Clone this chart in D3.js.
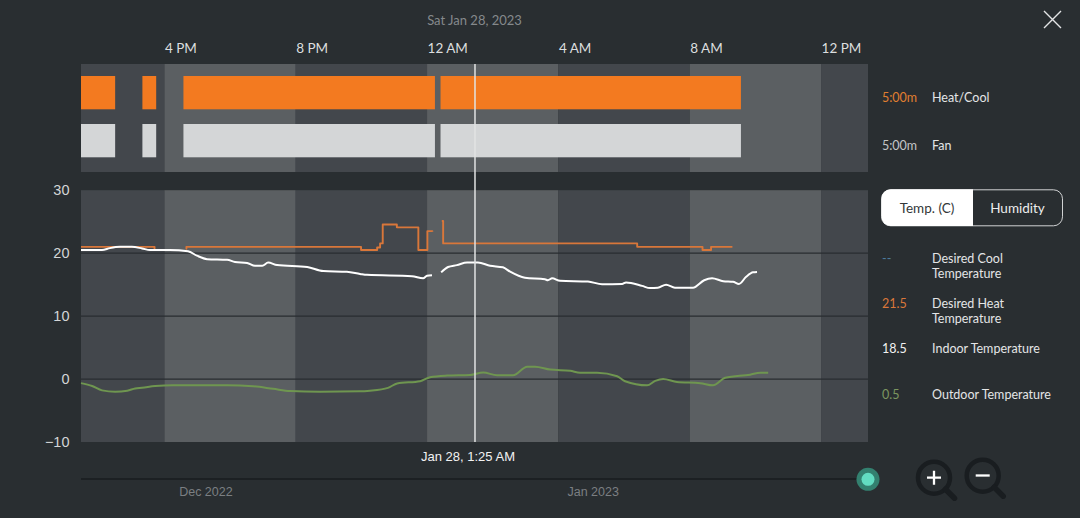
<!DOCTYPE html>
<html>
<head>
<meta charset="utf-8">
<script src="https://cdn.jsdelivr.net/npm/d3@7"></script>
<style>
  html, body { margin: 0; padding: 0; background: #292e31; overflow: hidden; }
  svg { display: block; }
  text { font-family: Lato, sans-serif; }
  .plain { font-family: "Liberation Sans", sans-serif; }
</style>
</head>
<body>
<div id="chart"></div>
<script>
// hours are counted from midnight of Jan 28 (negative = Jan 27)
const startHour = -10.54;
const endHour = 13.43;
const timeTicks = [-8, -4, 0, 4, 8, 12];
const bandEdges = [-10.54, -8, -4, 0, 4, 8, 12, 13.43];
const tempTicks = [30, 20, 10, 0, -10];
const gridTemps = [20, 10, 0];

// on/off runs of the system
const heatRuns = [[-10.54, -9.50], [-8.67, -8.25], [-7.42, 0.24], [0.41, 9.56]];
const fanRuns = [[-10.54, -9.50], [-8.67, -8.25], [-7.42, 0.24], [0.41, 9.56]];

// desired heat, one list per unbroken piece
const desiredHeat = [
  [[-10.54, 21.0], [-8.30, 20.7], [-8.28, 20.7]],
  [[-7.35, 20.7], [-7.33, 21.0], [-2.01, 20.5], [-1.52, 20.9], [-1.43, 21.55], [-1.35, 24.55],
   [-0.92, 24.1], [-0.265, 20.5], [0.01, 23.5], [0.16, 23.4]],
  [[0.45, 25.1], [0.49, 21.55], [6.40, 21.0], [8.39, 20.5], [8.65, 21.0], [9.30, 21.0]]
];

const indoorTemp = [
  [[-10.54, 20.5], [-9.90, 20.5], [-9.66, 20.8], [-9.35, 21.0], [-8.99, 21.0], [-8.68, 20.75],
   [-8.44, 20.5], [-7.83, 20.5], [-7.28, 20.3], [-7.01, 19.6], [-6.70, 19.05], [-6.09, 18.95],
   [-5.85, 18.6], [-5.48, 18.45], [-5.24, 18.0], [-5.02, 18.0], [-4.84, 18.5], [-4.57, 18.1],
   [-3.65, 17.8], [-3.16, 17.15], [-2.44, 17.05], [-2.04, 16.7], [-1.83, 16.55], [-0.46, 16.35],
   [-0.12, 16.0], [0, 16.4], [0.15, 16.5]],
  [[0.43, 16.95], [0.64, 17.8], [0.91, 18.1], [1.22, 18.5], [1.55, 18.5], [1.92, 18.0],
   [2.31, 17.75], [2.53, 17.05], [2.98, 16.1], [3.59, 15.85], [3.68, 15.7], [3.81, 16.0],
   [4.05, 15.6], [4.90, 15.5], [5.33, 15.05], [5.94, 15.1], [6.06, 15.35], [6.55, 14.8],
   [6.79, 14.45], [7.03, 14.5], [7.28, 15.0], [7.55, 14.5], [8.10, 14.5], [8.44, 15.7],
   [8.68, 16.0], [9.02, 15.55], [9.32, 15.45], [9.50, 15.1], [9.72, 16.25], [9.93, 16.95],
   [10.05, 17.0]]
];

const outdoorTemp = [
  [-10.54, -0.65], [-10.20, -1.1], [-9.90, -1.8], [-9.50, -2.0], [-9.13, -1.85], [-8.89, -1.5],
  [-8.68, -1.4], [-8.28, -1.1], [-7.73, -1.0], [-6.09, -1.0], [-5.30, -1.15], [-4.69, -1.55],
  [-4.17, -1.9], [-3.26, -2.0], [-2.04, -1.95], [-1.74, -1.85], [-1.19, -1.4], [-0.91, -0.7],
  [-0.21, -0.35], [0.09, 0.3], [0.61, 0.55], [1.31, 0.65], [1.71, 1.05], [2.13, 0.6],
  [2.62, 0.6], [3.05, 1.95], [3.29, 1.95], [3.75, 1.5], [4.36, 1.3], [4.66, 1.0],
  [5.18, 1.0], [5.79, 0.45], [6.03, -0.35], [6.70, -1.0], [6.95, -0.3], [7.19, 0],
  [7.61, -0.45], [8.32, -0.65], [8.71, -1.0], [9.08, 0.2], [9.84, 0.7], [10.15, 1.0], [10.39, 1.0]
];

const cursorHour = 1.46;
const legendRows = [
  { value: "--", color: "#4d7c9c", lines: ["Desired Cool", "Temperature"], y: 258 },
  { value: "21.5", color: "#d9773a", lines: ["Desired Heat", "Temperature"], y: 303.5 },
  { value: "18.5", color: "#f2f2f2", lines: ["Indoor Temperature"], y: 348 },
  { value: "0.5", color: "#7c9660", lines: ["Outdoor Temperature"], y: 394 }
];
const systemRows = [
  { value: "5:00m", color: "#e07f30", label: "Heat/Cool", y: 97 },
  { value: "5:00m", color: "#c4c6c7", label: "Fan", y: 145 }
];
const monthLabels = [new Date(2022, 11, 1), new Date(2023, 0, 1)];

const width = 1080, height = 518;
const base = new Date(2023, 0, 28).getTime();
const toDate = h => new Date(base + h * 3600000);

const svg = d3.select("#chart").append("svg")
  .attr("width", width)
  .attr("height", height);

const x = d3.scaleTime().domain([toDate(startHour), toDate(endHour)]).range([81, 868]);
const y = d3.scaleLinear().domain([30, -10]).range([190.2, 442]);

// alternating 4 hour bands behind both panels
function drawBands(top, bottom) {
  svg.append("g").selectAll("rect")
    .data(d3.pairs(bandEdges))
    .join("rect")
    .attr("x", d => x(toDate(d[0])))
    .attr("width", d => x(toDate(d[1])) - x(toDate(d[0])))
    .attr("y", top)
    .attr("height", bottom - top)
    .attr("fill", (d, i) => i % 2 ? "#5b5f62" : "#43474c");
}
drawBands(64, 172);
drawBands(190.2, 442);

// heat and fan runs
function drawRuns(runs, top, color) {
  svg.append("g").selectAll("rect")
    .data(runs)
    .join("rect")
    .attr("x", d => x(toDate(d[0])))
    .attr("width", d => x(toDate(d[1])) - x(toDate(d[0])))
    .attr("y", top)
    .attr("height", 33.3)
    .attr("fill", color);
}
drawRuns(heatRuns, 76, "#f37a20");
drawRuns(fanRuns, 124, "#d4d6d7");

// grid
svg.append("g").selectAll("line")
  .data(gridTemps)
  .join("line")
  .attr("x1", 81)
  .attr("x2", 868)
  .attr("y1", d => y(d))
  .attr("y2", d => y(d))
  .attr("stroke", "#292c30")
  .attr("stroke-width", 1.2);

// axes
const topAxis = svg.append("g")
  .attr("transform", "translate(0,52.5)")
  .call(d3.axisTop(x)
    .tickValues(timeTicks.map(toDate))
    .tickFormat(d3.timeFormat("%-I %p"))
    .tickSize(0)
    .tickPadding(0));
topAxis.select(".domain").remove();
// labels start at the band edge
topAxis.selectAll("text")
  .attr("fill", "#dcdedf")
  .attr("font-size", 13.5)
  .attr("text-anchor", "start")
  .style("font-family", "Lato, sans-serif");

const leftAxis = svg.append("g")
  .attr("transform", "translate(69.5,0)")
  .call(d3.axisLeft(y).tickValues(tempTicks).tickSize(0).tickPadding(0));
leftAxis.select(".domain").remove();
leftAxis.selectAll("text")
  .attr("fill", "#d4d6d7")
  .attr("font-size", 14.5)
  .style("font-family", "'Liberation Sans', sans-serif");

// lines
const straight = d3.line().x(d => x(toDate(d[0]))).y(d => y(d[1])).curve(d3.curveMonotoneX);
const stepped = d3.line().x(d => x(toDate(d[0]))).y(d => y(d[1])).curve(d3.curveStepAfter);

function drawLine(pieces, gen, color, sw) {
  svg.append("g").selectAll("path")
    .data(pieces)
    .join("path")
    .attr("d", gen)
    .attr("fill", "none")
    .attr("stroke", color)
    .attr("stroke-width", sw)
    .attr("stroke-linejoin", "round");
}
drawLine(desiredHeat, stepped, "#d9773a", 1.9);
drawLine(indoorTemp, straight, "#ffffff", 2);
drawLine([outdoorTemp], straight, "#6f9650", 2);

// cursor
svg.append("line")
  .attr("x1", x(toDate(cursorHour)))
  .attr("x2", x(toDate(cursorHour)))
  .attr("y1", 64)
  .attr("y2", 442)
  .attr("stroke", "#e2e3e3")
  .attr("stroke-width", 1.5);

svg.append("text")
  .attr("x", 474.5)
  .attr("y", 25)
  .attr("text-anchor", "middle")
  .attr("font-size", 13)
  .attr("fill", "#85898c")
  .text("Sat Jan 28, 2023");

svg.append("text")
  .attr("class", "plain")
  .attr("x", 468)
  .attr("y", 461)
  .attr("text-anchor", "middle")
  .attr("font-size", 13)
  .attr("fill", "#f2f2f2")
  .text("Jan 28, 1:25 AM");

// close button
svg.append("path")
  .attr("d", "M1044,11L1061,28M1061,11L1044,28")
  .attr("stroke", "#e4e5e6")
  .attr("stroke-width", 1.4)
  .attr("fill", "none");

// system legend
systemRows.forEach(r => {
  svg.append("text").attr("x", 882).attr("y", r.y + 4.5)
    .attr("font-size", 12.5).attr("fill", r.color).text(r.value);
  svg.append("text").attr("x", 932).attr("y", r.y + 4.5)
    .attr("font-size", 12.5).attr("fill", "#e4e5e6").text(r.label);
});

// toggle
const toggle = svg.append("g");
toggle.append("rect")
  .attr("x", 881.5).attr("y", 189.8).attr("width", 181).attr("height", 36).attr("rx", 9)
  .attr("fill", "#292e31").attr("stroke", "#d0d2d3").attr("stroke-width", 1);
toggle.append("path")
  .attr("d", "M973,189.3H890.5a9,9 0 0 0 -9,9V217a9,9 0 0 0 9,9H973Z")
  .attr("fill", "#ffffff");
toggle.append("text").attr("x", 927).attr("y", 213)
  .attr("text-anchor", "middle").attr("font-size", 13.5).attr("fill", "#33373a").text("Temp. (C)");
toggle.append("text").attr("x", 1017.5).attr("y", 213)
  .attr("text-anchor", "middle").attr("font-size", 13.5).attr("fill", "#eceded").text("Humidity");

// temperature legend
legendRows.forEach(r => {
  svg.append("text").attr("x", 882).attr("y", r.y + 4.5)
    .attr("font-size", 12.5).attr("fill", r.color).text(r.value);
  r.lines.forEach((line, i) => {
    svg.append("text").attr("x", 932).attr("y", r.y + 4.5 + i * 15)
      .attr("font-size", 12.5).attr("fill", "#e4e5e6").text(line);
  });
});

// month slider
const sliderX = d3.scaleTime()
  .domain([new Date(2022, 10, 21), new Date(2023, 0, 23)])
  .range([81, 868]);
svg.append("line")
  .attr("x1", 81).attr("x2", 868).attr("y1", 479).attr("y2", 479)
  .attr("stroke", "#1c2023").attr("stroke-width", 2);
svg.append("g").selectAll("text")
  .data(monthLabels)
  .join("text")
  .attr("class", "plain")
  .attr("x", d => sliderX(d))
  .attr("y", 496)
  .attr("text-anchor", "middle")
  .attr("font-size", 12.5)
  .attr("fill", "#7b7f82")
  .text(d3.timeFormat("%b %Y"));
svg.append("circle").attr("cx", 868).attr("cy", 479.3).attr("r", 11.5).attr("fill", "#33806f");
svg.append("circle").attr("cx", 868).attr("cy", 479.3).attr("r", 6.5).attr("fill", "#62dcc1");

// zoom icons
function magnifier(cx, cy, signPath) {
  const g = svg.append("g").attr("fill", "none");
  g.append("circle").attr("cx", cx).attr("cy", cy).attr("r", 16)
    .attr("stroke", "#191d20").attr("stroke-width", 4.5);
  g.append("line").attr("x1", cx + 11.5).attr("y1", cy + 11.5).attr("x2", cx + 20.5).attr("y2", cy + 20.5)
    .attr("stroke", "#191d20").attr("stroke-width", 5.5).attr("stroke-linecap", "round");
  g.append("path").attr("d", signPath).attr("stroke", "#ffffff").attr("stroke-width", 2.3);
}
magnifier(934, 477.7, "M927,477.7H941M934,470.7V484.7");
magnifier(982.7, 475.7, "M975.7,475.5H989.7");
</script>
</body>
</html>
